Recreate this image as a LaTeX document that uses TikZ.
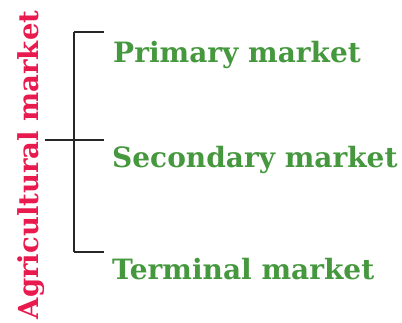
\documentclass[tikz,border=0pt]{standalone}
\usepackage{fontspec}
\setmainfont{DejaVu Serif}
\usepackage{xcolor}
\definecolor{agrired}{RGB}{232,26,78}
\definecolor{mktgreen}{RGB}{70,152,62}
\usetikzlibrary{positioning}

\tikzset{
  market/.style={anchor=base west, inner sep=0pt, text=mktgreen,
    font=\fontsize{28}{28}\selectfont\bfseries},
  bracket/.style={line width=1.8pt, black!85}
}

\begin{document}
\begin{tikzpicture}[x=1pt,y=-1pt]
  \useasboundingbox (0,0) rectangle (402,323);
  % bracket points
  \coordinate (top) at (74,32);
  \coordinate (mid) at (74,140);
  \coordinate (bot) at (74,252);
  \coordinate (stem) at (45,140);
  \coordinate (tip) at (104,0);
  % labels
  \node[market] (primary) at (113,63) {Primary market};
  \node[market] (secondary) at (112,168) {Secondary market};
  \node[market] (terminal) at (112,280) {Terminal market};
  \node[rotate=90, anchor=base, inner sep=0pt, text=agrired,
    font=\fontsize{27.5}{27.5}\selectfont\bfseries] (agri) at (38,165) {Agricultural market};
  % drawings
  \draw[bracket] (top) -- (bot);
  \draw[bracket] (top) -- (top -| tip);
  \draw[bracket] (stem) -- (mid -| tip);
  \draw[bracket] (bot) -- (bot -| tip);
\end{tikzpicture}
\end{document}
